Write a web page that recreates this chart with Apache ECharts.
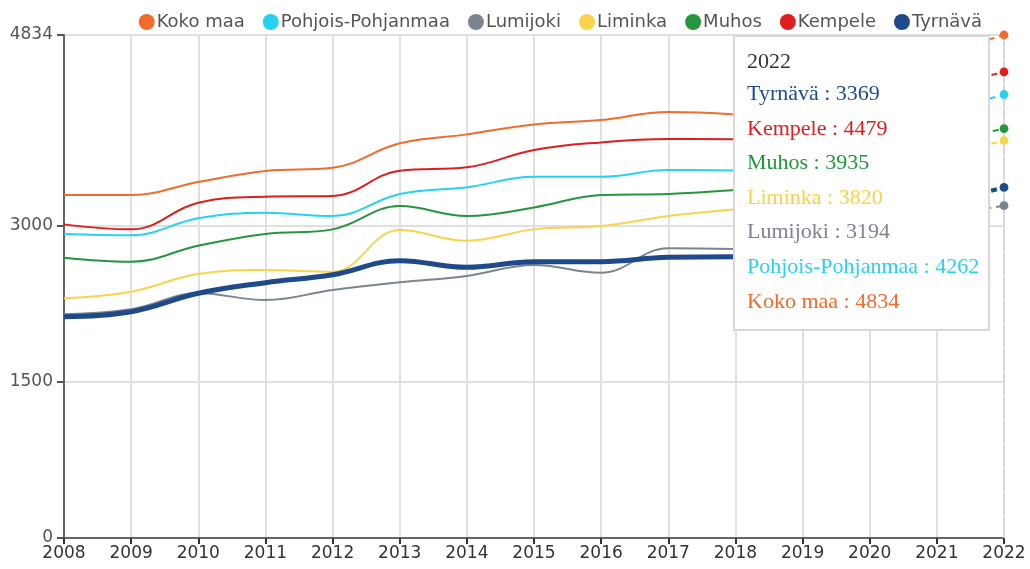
<!DOCTYPE html>
<html>
<head>
<meta charset="utf-8">
<script src="https://cdn.jsdelivr.net/npm/echarts@6/dist/echarts.min.js"></script>
<style>
  html, body { margin: 0; padding: 0; background: #fff; }
  #chart { width: 1030px; height: 569px; }
</style>
</head>
<body>
<div id="chart"></div>
<script>
const years = ["2008", "2009", "2010", "2011", "2012", "2013", "2014", "2015",
  "2016", "2017", "2018", "2019", "2020", "2021", "2022"];
const yTicks = [0, 1500, 3000, 4834];

// 2008-2018 values, then the 2022 value
const kokoMaa = [3296, 3296, 3421, 3527, 3558, 3793, 3879, 3975, 4016, 4094, 4071];
const kokoMaa2022 = 4834;
const pohjoisPohjanmaa = [2921, 2909, 3072, 3126, 3094, 3306, 3370, 3472, 3472, 3536, 3533];
const pohjoisPohjanmaa2022 = 4262;
const lumijoki = [2150, 2198, 2352, 2287, 2383, 2457, 2518, 2623, 2550, 2784, 2777];
const lumijoki2022 = 3194;
const liminka = [2303, 2367, 2537, 2575, 2559, 2960, 2857, 2966, 2998, 3094, 3159];
const liminka2022 = 3820;
const muhos = [2694, 2655, 2809, 2921, 2966, 3190, 3094, 3177, 3296, 3306, 3344];
const muhos2022 = 3935;
const kempele = [3014, 2966, 3222, 3280, 3287, 3530, 3562, 3729, 3802, 3834, 3831];
const kempele2022 = 4479;
const tyrnava = [2127, 2175, 2352, 2454, 2530, 2665, 2601, 2655, 2655, 2697, 2703];
const tyrnava2022 = 3369;

const regions = [
  { name: "Koko maa", data: kokoMaa, last: kokoMaa2022, color: "#f26b2c", width: 2 },
  { name: "Pohjois-Pohjanmaa", data: pohjoisPohjanmaa, last: pohjoisPohjanmaa2022, color: "#27d1f2", width: 2 },
  { name: "Lumijoki", data: lumijoki, last: lumijoki2022, color: "#7b8591", width: 2 },
  { name: "Liminka", data: liminka, last: liminka2022, color: "#f9d34a", width: 2 },
  { name: "Muhos", data: muhos, last: muhos2022, color: "#23963e", width: 2 },
  { name: "Kempele", data: kempele, last: kempele2022, color: "#de1d1d", width: 2 },
  { name: "Tyrnävä", data: tyrnava, last: tyrnava2022, color: "#1e4a8a", width: 5 }
];
const tooltipOrder = ["Tyrnävä", "Kempele", "Muhos", "Liminka", "Lumijoki",
  "Pohjois-Pohjanmaa", "Koko maa"];

const series = [];
regions.forEach((r) => {
  series.push({
    name: r.name,
    type: "line",
    smooth: 0.4,
    showSymbol: false,
    data: r.data,
    lineStyle: { color: r.color, width: r.width },
    itemStyle: { color: r.color },
    emphasis: { disabled: true },
    z: r.name === "Tyrnävä" ? 3 : 2
  });
  // dashed jump from the last yearly value to 2022
  const dashed = years.map(() => null);
  const lastIdx = r.data.length - 1;
  dashed[lastIdx] = { value: r.data[lastIdx], symbol: "none" };
  dashed[years.length - 1] = { value: r.last, symbol: "circle", symbolSize: 8 };
  series.push({
    name: r.name,
    type: "line",
    connectNulls: true,
    showAllSymbol: true,
    data: dashed,
    lineStyle: { color: r.color, width: r.width === 5 ? 4 : 2, type: [6, 5] },
    itemStyle: { color: r.color, borderWidth: 0 },
    emphasis: { disabled: true },
    z: 4
  });
});

const chart = echarts.init(document.getElementById("chart"));

chart.setOption({
  animation: false,
  textStyle: { fontFamily: "DejaVu Sans" },
  legend: {
    data: regions.map((r) => ({ name: r.name, itemStyle: { color: r.color } })),
    top: 8,
    right: 43,
    icon: "circle",
    itemWidth: 16,
    itemHeight: 16,
    itemGap: 18,
    textStyle: { fontSize: 18, color: "#555", padding: [0, 0, 0, -3] }
  },
  grid: { left: 64, right: 26, top: 35, bottom: 31 },
  tooltip: {
    trigger: "axis",
    alwaysShowContent: true,
    position: [733, 35],
    backgroundColor: "#fff",
    borderColor: "#d8d8d8",
    borderWidth: 2,
    borderRadius: 0,
    padding: [9, 12, 0, 12],
    extraCssText: "box-shadow:none;width:229px;height:283px;box-sizing:content-box;",
    axisPointer: { type: "line", z: 1, lineStyle: { color: "#d6d6d6", width: 2 } },
    formatter: (params) => {
      let html = '<div style="font-family:\'Liberation Serif\',serif;font-size:22px;">';
      html += '<div style="color:#333;line-height:30px;">' + params[0].axisValue + "</div>";
      tooltipOrder.forEach((n) => {
        const p = params.find((q) => q.seriesName === n && q.value != null);
        if (!p) return;
        const c = regions.find((r) => r.name === n).color;
        html += '<div style="color:' + c + ';line-height:34.6px;">' + n + " : " + p.value + "</div>";
      });
      return html + "</div>";
    }
  },
  xAxis: {
    type: "category",
    data: years,
    boundaryGap: false,
    axisLine: { lineStyle: { color: "#666", width: 2 } },
    axisTick: { show: true, length: 6, lineStyle: { color: "#333", width: 2 } },
    axisLabel: { color: "#333", fontSize: 17, margin: 7 },
    splitLine: { show: true, lineStyle: { color: "#e0e0e0", width: 2 } }
  },
  yAxis: {
    type: "value",
    min: 0,
    max: 4834,
    axisLine: { show: true, lineStyle: { color: "#666", width: 2 } },
    axisTick: { show: true, length: 7, customValues: yTicks, lineStyle: { color: "#555", width: 2 } },
    axisLabel: {
      color: "#555",
      fontSize: 17,
      margin: 11,
      customValues: yTicks,
      formatter: (v) => String(v)
    },
    splitLine: { show: true, lineStyle: { color: "#e0e0e0", width: 2 } }
  },
  series: series
});

chart.dispatchAction({ type: "showTip", seriesIndex: 1, dataIndex: years.length - 1 });
</script>
</body>
</html>
